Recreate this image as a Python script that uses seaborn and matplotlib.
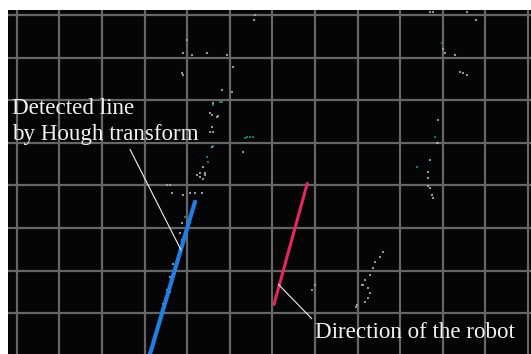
import numpy as np
import pandas as pd
import matplotlib
matplotlib.use("Agg")
import matplotlib.pyplot as plt
import seaborn as sns

# ---- data (image-plane coordinates, pixels) ----
grid_x = [16.7, 59.3, 101.9, 144.5, 187.1, 229.7, 272.3, 314.9, 357.5, 400.1, 442.7, 485.3, 527.9]
grid_y = [15.0, 57.6, 100.2, 142.8, 185.4, 228.0, 270.6, 313.2]

# laser scan points: x, y, kind (w = white, g = green)
scan_x = [255, 254, 187, 183, 207, 192, 227, 182, 233, 222, 232, 220, 213, 210, 217, 247, 253,
          210, 212, 207, 203, 200, 183, 213, 222, 212, 218, 212, 213, 213, 250, 245, 243, 208, 205, 197,
          167, 170, 172, 183, 190, 195, 202, 200, 205, 203, 185, 182, 180, 182,
          173, 170, 167, 163, 172, 170, 167,
          430, 433, 467, 476, 442, 443, 445, 455, 460, 463, 467, 438, 435, 437, 438, 430, 417, 428,
          428, 430, 432, 433, 428,
          383, 380, 375, 373, 370, 365, 363, 368, 370, 368, 365, 357, 356, 362, 315, 312]
scan_y = [15, 20, 40, 53, 53, 55, 55, 73, 67, 90, 92, 102, 103, 113, 117, 137, 137,
          132, 147, 157, 167, 173, 75, 105, 102, 115, 116, 127, 132, 146, 137, 138, 152, 162, 173, 175,
          185, 185, 193, 195, 193, 193, 193, 177, 175, 179, 217, 223, 233, 240,
          264, 277, 290, 304, 283, 292, 298,
          12, 12, 12, 20, 43, 49, 53, 55, 72, 73, 75, 120, 137, 143, 143, 160, 167, 172,
          178, 188, 195, 198, 186,
          252, 257, 262, 268, 275, 280, 285, 288, 293, 298, 302, 305, 307, 285, 285, 290]
scan_kind = ["w", "w", "w", "w", "w", "w", "w", "w", "w", "w", "w", "g", "w", "w", "w", "g", "g",
             "w", "w", "g", "w", "w", "w", "g", "g", "w", "w", "w", "w", "g", "g", "g", "w", "g", "w", "w",
             "w", "w", "w", "w", "w", "w", "w", "w", "w", "w", "g", "w", "w", "w",
             "w", "w", "w", "w", "w", "w", "w",
             "w", "w", "w", "w", "g", "w", "w", "w", "w", "w", "w", "w", "g", "w", "w", "w", "g", "w",
             "w", "w", "w", "w", "w",
             "w", "w", "w", "w", "w", "w", "w", "w", "w", "w", "w", "w", "w", "w", "w", "w"]

hough_x = [150, 195]
hough_y = [354, 201.7]
robot_x = [274, 307.3]
robot_y = [304.3, 183.3]

label_hough = "Detected line\nby Hough transform"
label_robot = "Direction of the robot"
hough_target = (181, 250)
robot_target = (278.3, 284.3)

# ---- figure ----
sns.set_style("dark")
plt.rcParams["font.family"] = ["Liberation Serif", "DejaVu Serif"]

W, H = 531, 354
fig = plt.figure(figsize=(W / 100, H / 100), dpi=100, facecolor="white")
ax = fig.add_axes([8 / W, 0, (W - 8) / W, (H - 10) / H])
ax.set_facecolor("#050508")
ax.set_xlim(8, W)
ax.set_ylim(H, 10)

ax.set_xticks(grid_x)
ax.set_yticks(grid_y)
ax.grid(True, color="#666666", linewidth=1.6)
ax.set_axisbelow(True)
ax.tick_params(length=0, labelbottom=False, labelleft=False)
for s in ax.spines.values():
    s.set_visible(False)

scan = pd.DataFrame({"x": scan_x, "y": scan_y, "kind": scan_kind})
sns.scatterplot(data=scan, x="x", y="y", hue="kind",
                palette={"w": "#a8a8a8", "g": "#25886a"},
                s=2.5, linewidth=0, legend=False, ax=ax)

sns.lineplot(x=hough_x, y=hough_y, color="#1f7fe3", linewidth=3.0,
             estimator=None, sort=False, ax=ax)
sns.lineplot(x=robot_x, y=robot_y, color="#e6265e", linewidth=2.2,
             estimator=None, sort=False, ax=ax)

ax.set_xlabel("")
ax.set_ylabel("")

ax.annotate(label_hough, xy=hough_target, xytext=(12, 98),
            textcoords="data", ha="left", va="top", color="#f2f2f2",
            fontsize=16.6, linespacing=1.3,
            arrowprops=dict(arrowstyle="-", color="#f0f0f0", lw=0.8,
                            shrinkA=1, shrinkB=0, relpos=(0.62, 0.0)))
ax.annotate(label_robot, xy=robot_target, xytext=(315, 322),
            textcoords="data", ha="left", va="top", color="#f2f2f2",
            fontsize=16.6,
            arrowprops=dict(arrowstyle="-", color="#f0f0f0", lw=0.8,
                            shrinkA=0, shrinkB=0, relpos=(0.0, 1.0)))

fig.savefig("out.png", dpi=100, facecolor="white")
